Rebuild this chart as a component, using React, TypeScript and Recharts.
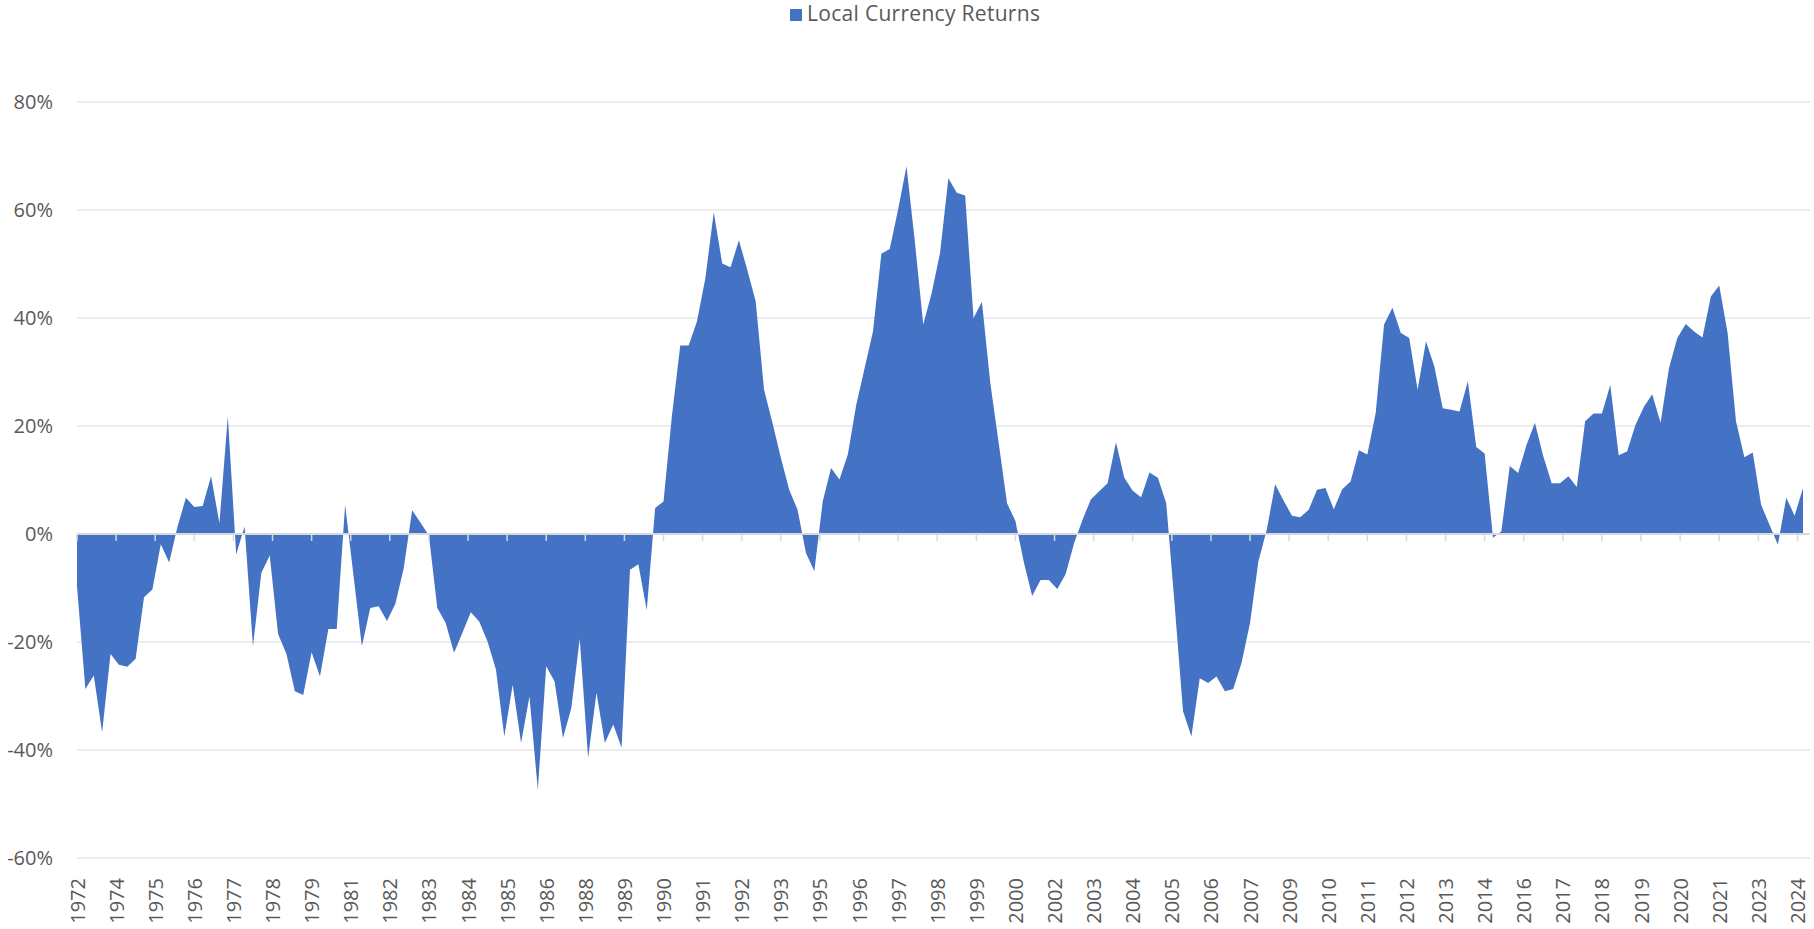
import React from 'react';
import {
  AreaChart,
  Area,
  XAxis,
  YAxis,
  CartesianGrid,
  ReferenceLine,
  Legend,
} from 'recharts';

// ---------- data ----------
const seriesName = 'Local Currency Returns';

// Quarterly observations (percent), first = Dec 1972, last = Jun 2024
const returnsPct = [
  -9.7, -28.7, -26.2, -36.7, -22.2, -24.2, -24.6, -23.1, -11.7, -10.3,
  -1.9, -5.3, 1.4, 6.7, 5.0, 5.2, 10.7, 2.0, 21.8, -3.8,
  1.4, -20.8, -7.2, -4.0, -18.5, -22.2, -29.1, -29.8, -21.9, -26.4,
  -17.6, -17.6, 5.4, -7.7, -20.8, -13.7, -13.4, -16.1, -12.9, -6.3,
  4.4, 2.1, -0.3, -13.7, -16.5, -22.0, -18.3, -14.5, -16.2, -19.9,
  -25.1, -37.5, -27.9, -38.7, -30.1, -47.4, -24.5, -27.3, -37.8, -32.2,
  -19.4, -41.5, -29.4, -38.7, -35.3, -39.6, -6.6, -5.6, -14.1, 4.8,
  6.0, 21.8, 34.9, 34.9, 39.4, 47.4, 59.6, 50.1, 49.4, 54.4,
  48.9, 43.1, 26.7, 20.6, 14.1, 8.2, 4.5, -3.5, -6.9, 6.0,
  12.2, 10.1, 14.7, 23.9, 30.7, 37.5, 51.9, 52.8, 60.1, 68.1,
  54.1, 38.8, 44.6, 52.0, 65.9, 63.2, 62.7, 40.0, 43.0, 28.0,
  16.9, 5.7, 2.4, -5.2, -11.5, -8.5, -8.5, -10.2, -7.4, -1.7,
  2.6, 6.4, 7.9, 9.4, 17.0, 10.4, 8.0, 6.8, 11.4, 10.4,
  5.7, -13.0, -32.8, -37.5, -26.7, -27.6, -26.4, -29.1, -28.7, -23.8,
  -16.5, -5.1, 0.8, 9.2, 6.2, 3.4, 3.1, 4.5, 8.2, 8.5,
  4.6, 8.3, 9.7, 15.5, 14.7, 22.4, 38.8, 41.9, 37.2, 36.3,
  26.7, 35.7, 31.0, 23.3, 23.0, 22.7, 28.3, 16.1, 14.9, -0.7,
  0.5, 12.6, 11.3, 16.5, 20.6, 14.4, 9.4, 9.4, 10.7, 8.7,
  20.9, 22.3, 22.3, 27.6, 14.6, 15.3, 20.2, 23.5, 25.9, 20.6,
  30.7, 36.3, 38.9, 37.5, 36.4, 44.0, 46.0, 37.2, 20.9, 14.2,
  15.1, 5.4, 1.7, -2.0, 6.7, 3.4, 8.5,
];

// months elapsed since Dec 1972 for each quarterly observation
const quarterMonths = returnsPct.map((_, i) => i * 3);

// date-axis labels, one every 14 months starting Dec 1972
const tickLabels = [
  '1972', '1974', '1975', '1976', '1977', '1978', '1979', '1981', '1982', '1983',
  '1984', '1985', '1986', '1988', '1989', '1990', '1991', '1992', '1993', '1995',
  '1996', '1997', '1998', '1999', '2000', '2002', '2003', '2004', '2005', '2006',
  '2007', '2009', '2010', '2011', '2012', '2013', '2014', '2016', '2017', '2018',
  '2019', '2020', '2021', '2023', '2024',
];
const tickMonths = tickLabels.map((_, i) => i * 14);
const yTicks = [-60, -40, -20, 0, 20, 40, 60, 80];

const data = returnsPct.map((v, i) => ({ m: quarterMonths[i], v }));
const labelByMonth: Record<number, string> = {};
tickMonths.forEach((m, i) => {
  labelByMonth[m] = tickLabels[i];
});

// ---------- style ----------
const FILL = '#4472C4';
const GRID = '#D9D9D9';
const TEXT = '#595959';
const FONT = '"Open Sans", "DejaVu Sans", sans-serif';

const XTick = (props: any) => {
  const { x, y, payload } = props;
  return (
    <text
      x={x}
      y={y}
      transform={`rotate(-90, ${x}, ${y})`}
      textAnchor="end"
      dominantBaseline="central"
      fill={TEXT}
      fontSize={20}
      fontFamily={FONT}
    >
      {labelByMonth[payload.value]}
    </text>
  );
};

const LegendContent = () => (
  <div style={{ position: 'relative', height: 30, width: 1814, fontFamily: FONT }}>
    <span
      style={{
        position: 'absolute',
        left: 790,
        top: 9,
        width: 12,
        height: 12,
        background: FILL,
      }}
    />
    <span
      style={{
        position: 'absolute',
        left: 807,
        top: 0,
        lineHeight: '26px',
        fontSize: 21,
        letterSpacing: 0.3,
        color: TEXT,
        whiteSpace: 'nowrap',
      }}
    >
      {seriesName}
    </span>
  </div>
);

export default function App() {
  return (
    <div style={{ position: 'absolute', left: 0, top: 0, width: 1814, height: 929, background: '#fff' }}>
      <AreaChart
        width={1814}
        height={929}
        data={data}
        margin={{ top: 72, right: 4, bottom: 1, left: 0 }}
      >
        <CartesianGrid vertical={false} stroke={GRID} strokeWidth={1} />
        <XAxis
          dataKey="m"
          type="number"
          domain={[0, 620.5]}
          ticks={tickMonths}
          interval={0}
          axisLine={false}
          tickLine={false}
          tickSize={0}
          tickMargin={20}
          height={70}
          allowDataOverflow
          tick={(p: any) => <XTick {...p} />}
        />
        <YAxis
          type="number"
          domain={[-60, 80]}
          ticks={yTicks}
          interval={0}
          axisLine={false}
          tickLine={false}
          tickSize={0}
          tickMargin={24}
          width={77}
          tickFormatter={(v: number) => `${v}%`}
          tick={{ fill: TEXT, fontSize: 20, fontFamily: FONT }}
        />
        <Legend
          verticalAlign="top"
          align="left"
          wrapperStyle={{ top: 0, left: 0, width: 1814, height: 30 }}
          content={() => <LegendContent />}
        />
        <Area
          type="linear"
          dataKey="v"
          name={seriesName}
          stroke="none"
          fill={FILL}
          fillOpacity={1}
          baseValue={0}
          isAnimationActive={false}
        />
        <ReferenceLine y={0} stroke={GRID} strokeWidth={2} />
        {tickMonths.map((m) => (
          <ReferenceLine
            key={m}
            segment={[
              { x: m, y: 0 },
              { x: m, y: -1.3 },
            ]}
            stroke={GRID}
            strokeWidth={1.5}
          />
        ))}
      </AreaChart>
    </div>
  );
}
